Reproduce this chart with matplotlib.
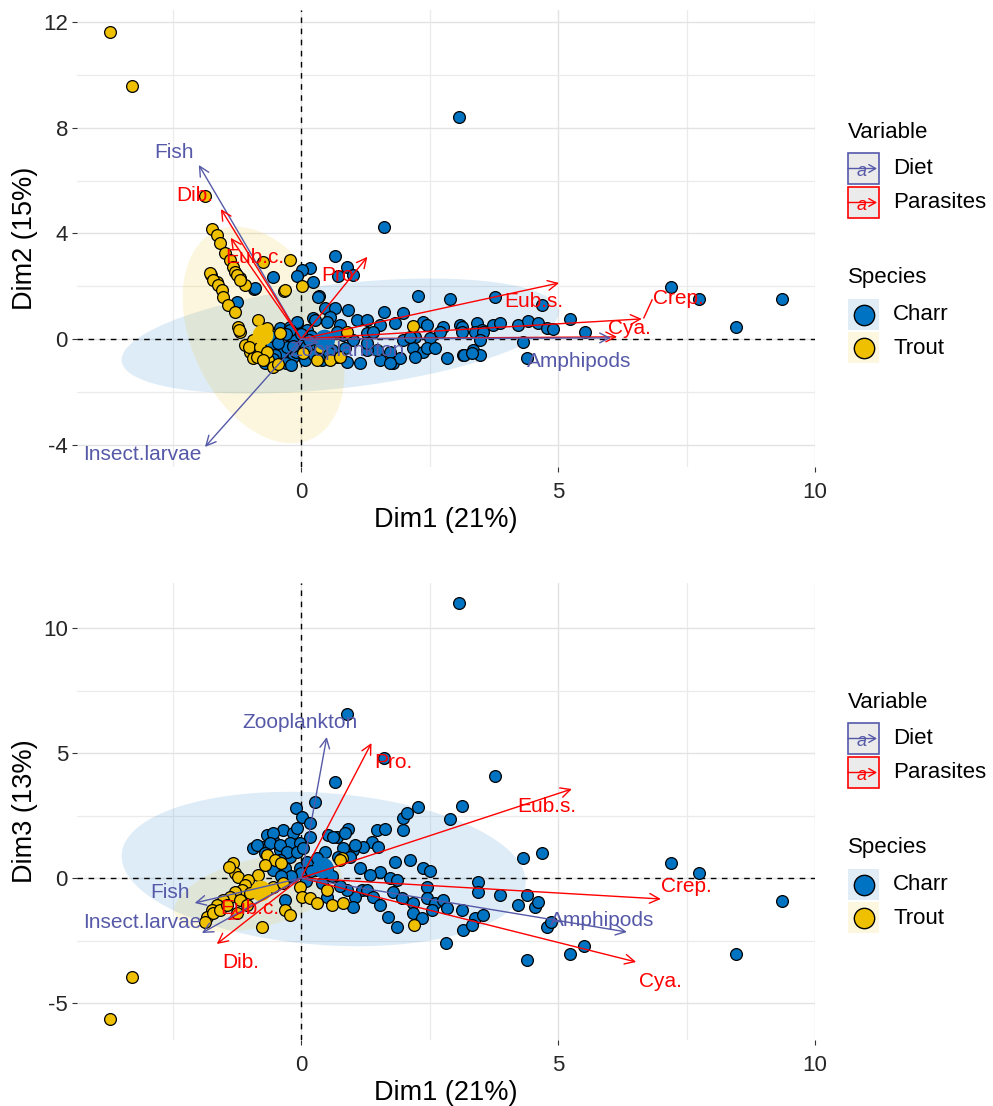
import numpy as np
import matplotlib
matplotlib.use("Agg")
import matplotlib.pyplot as plt
from matplotlib.patches import Rectangle

plt.rcParams['font.family'] = ['Liberation Sans', 'DejaVu Sans']
plt.rcParams['axes.unicode_minus'] = False

# colours
charr_col = '#0073C2'
trout_col = '#EFC000'
diet_col = '#5559A8'
para_col = '#FF0000'

# ---------------- data ----------------
# top panel: Dim1 vs Dim2
top_charr_x = [3.07, 1.62, 0.66, 0.89, 0.18, 0.02, -0.08, -0.54, 0.23, 0.72, -0.91, 0.35, 2.28, 2.90, 1.01,
               -0.89, -1.25, 0.33, 0.47, 0.66, 0.91, 0.56, 0.23, 1.09, 1.28, -0.41, -0.21, -0.08, 1.62, 1.98,
               0.76, 0.51, 0.27, 1.54, 1.83, 2.37, 2.76, 3.09, 3.42, 3.74, 3.52, 2.22, 2.51, 2.18, 2.37,
               2.84, 3.15, 3.35, 3.48, 1.15, 1.54, 1.79, 1.93, 0.89, 0.70, 1.48, 1.28, 1.73, 1.01, 0.82,
               1.28, 0.70, 0.37, 0.08, -0.16, -0.35, -0.37, 0.02, -0.16, -0.27, -0.08, 0.12, -0.21, -0.47,
               3.77, 4.69, 5.23, 5.53, 2.45, 3.13, 3.87, 4.22, 4.42, 4.61, 4.79, 4.90, 2.70, 3.13, 3.39,
               3.54, 3.48, 4.32, 4.40, 2.45, 2.61, 2.22, 3.17, 3.33, 1.73, 1.28, 1.40, 1.98, 2.12, 7.20,
               7.74, 9.36, 8.46, -0.60, -0.50, -0.30, -0.10, 0.10, 0.20, -0.30, -0.60, -0.80, 0.00, 0.30,
               0.50, 0.60, 0.40, -0.20, -0.70, -0.45, -0.15, 0.15, -0.55, 0.25, 0.55, 0.85]
top_charr_y = [8.40, 4.24, 3.14, 2.73, 2.69, 2.61, 2.39, 2.35, 2.16, 2.39, 1.89, 1.63, 1.63, 1.52, 2.42,
               1.93, 1.40, 1.59, 1.17, 1.17, 1.10, 0.83, 0.80, 0.72, 0.72, 0.42, 0.45, 0.61, 1.02, 0.98,
               0.53, 0.64, 0.72, 0.53, 0.61, 0.64, 0.45, 0.53, 0.61, 0.53, 0.34, 0.08, 0.04, -0.34, -0.49,
               -0.72, -0.61, -0.42, -0.61, -0.91, -0.80, -0.91, -0.72, -0.87, -0.68, -0.42, -0.42, -0.49, -0.04, 0.15,
               0.23, 0.27, -0.53, -0.80, -0.68, -0.80, -0.49, -0.15, 0.08, -0.30, 0.64, 0.34, 0.34, 0.04,
               1.59, 1.29, 0.76, 0.27, 0.53, 0.45, 0.61, 0.53, 0.68, 0.61, 0.42, 0.38, 0.27, 0.27, 0.27,
               0.27, -0.04, -0.11, -0.72, -0.34, -0.34, -0.68, -0.61, -0.53, -0.91, -0.15, 0.27, -0.04, 0.08, 1.97,
               1.52, 1.52, 0.45, -0.30, -0.60, -0.90, -0.50, -0.30, 0.10, 0.20, 0.10, -0.20, 0.20, -0.20,
               -0.20, -0.40, -0.80, -1.00, -0.90, -0.15, -0.25, -0.05, -0.75, -0.60, -0.55, -0.35]
top_trout_x = [-3.72, -3.29, -1.87, -1.73, -1.64, -1.58, -1.48, -1.38, -0.21, -0.74, -1.32, -1.75, -1.64, -1.28,
               -1.19, -1.09, -1.25, -1.19, 0.02, -0.33, -1.77, -1.71, -1.61, -1.54, -1.52, -1.42, -1.28, -1.23,
               -1.19, -0.84, -1.09, -0.99, -0.93, -0.80, -0.64, -0.54, -0.31, -1.20, -0.93, -1.02, -0.80, -0.66,
               -0.86, -0.74, -0.45, -0.66, -0.41, 0.89, 0.31, 0.56, 0.76, 0.04, 0.37, 2.18]
top_trout_y = [11.63, 9.58, 5.42, 4.17, 3.94, 3.63, 3.26, 2.99, 2.99, 2.92, 2.73, 2.42, 2.16, 2.54,
               2.31, 2.05, 2.42, 2.23, 2.00, 1.82, 2.50, 2.23, 2.05, 1.86, 1.59, 1.29, 1.02, 0.45,
               0.27, 0.72, -0.23, -0.49, -0.72, -0.53, -0.80, -1.06, 1.86, 0.34, -0.04, -0.30, -0.30, -0.49,
               -0.68, -0.80, -0.95, 0.42, 0.23, 0.27, -0.80, -0.80, -0.68, -0.53, -0.30, 0.49]

# bottom panel: Dim1 vs Dim3
bot_charr_x = [3.07, 0.89, 1.62, 0.66, 3.77, 0.27, -0.10, 0.02, 0.18, 2.28, 3.13, 2.90, 1.98, 2.06, 1.98,
               0.91, 0.53, 0.70, 1.48, 1.63, 1.38, 1.50, 1.20, 1.01, 0.86, 0.47, 1.83, 2.12, 2.37, 2.51,
               1.15, 1.54, -0.93, -0.66, -0.35, -0.16, -0.54, -0.21, -0.74, -0.41, -0.02, 0.18, -0.21, -0.54,
               -0.08, -0.86, -0.60, -0.41, -0.70, -0.27, -0.08, 0.04, -0.41, -0.31, -0.54, -0.02, 0.12, 0.31,
               0.31, 0.62, 0.86, 1.05, 0.82, 0.72, 0.95, 1.19, 1.05, 1.01, 0.89, -0.31, 0.51, 4.32, 4.69,
               1.34, 1.73, 1.87, 2.45, 3.44, 3.44, 3.87, 4.40, 4.22, 4.55, 4.61, 1.28, 1.40, 1.79, 1.96,
               1.54, 2.18, 2.45, 2.61, 2.76, 2.84, 3.13, 3.39, 3.54, 2.18, 2.35, 2.55, 1.69, 1.87, 3.15,
               3.33, 4.79, 4.86, 2.82, 5.51, 5.23, 4.40, 7.20, 7.74, 9.36, 8.46, 0.00, -0.20, 0.10, 0.20,
               0.50, 0.60, 0.40, -0.40, 0.75]
bot_charr_y = [11.00, 6.56, 4.80, 3.84, 4.08, 3.04, 2.80, 2.44, 2.20, 2.84, 2.88, 2.36, 2.40, 2.60, 1.92,
               1.96, 1.72, 1.64, 1.92, 1.96, 1.44, 1.24, 1.24, 1.12, 1.04, 1.04, 0.64, 0.72, 0.40, 0.28,
               0.40, 0.24, 1.20, 1.72, 1.92, 1.80, 1.52, 1.40, 1.24, 1.12, 1.40, 1.64, 0.84, 1.80,
               2.00, 1.32, 1.40, 1.32, 1.00, 1.04, 1.04, 1.20, 0.72, 0.40, 0.32, 0.40, 0.64, 0.80,
               0.32, 1.64, 1.80, 1.32, 1.20, 0.84, 0.84, -0.48, -0.76, -1.16, -0.48, -0.88, -0.76, 0.80, 1.00,
               0.12, 0.00, -0.08, -0.36, -0.16, -0.56, -0.68, -0.68, -1.08, -1.16, -0.96, -0.48, -0.76, -0.56, -0.80,
               -1.08, -1.00, -0.80, -1.00, -0.88, -1.20, -1.28, -1.60, -1.48, -1.40, -1.60, -1.28, -1.56, -1.96, -2.08,
               -1.88, -1.96, -1.76, -2.60, -2.72, -3.04, -3.28, 0.60, 0.20, -0.92, -3.04, 0.20, 0.10, -0.10, 0.30,
               0.40, 0.10, -0.20, 0.10, -0.30]
bot_trout_x = [-3.29, -3.72, -0.76, -1.32, -1.28, -0.66, -0.51, 0.80, -1.40, -1.22, -0.84, -0.70, -0.40,
               -1.03, -1.09, -1.15, -1.28, -1.38, -1.52, -1.64, -1.73, -1.83, -1.87, -1.71, -1.58, -1.44,
               -1.19, -0.99, -0.80, -0.54, -0.35, -1.05, -1.25, -0.31, -0.21, -0.02, 0.02, 0.18, 0.31,
               0.51, 0.60, 0.82, 0.76, 2.20]
bot_trout_y = [-3.96, -5.64, -1.96, 0.60, 0.20, 0.92, 0.72, 0.80, 0.45, 0.05, 0.12, 0.52, 0.60,
               -0.08, -0.28, -0.48, -0.56, -0.76, -0.88, -1.08, -1.28, -1.56, -1.76, -1.40, -1.28, -1.08,
               -0.88, -0.60, -0.48, -0.36, -0.20, -1.08, -1.40, -1.28, -1.48, -0.36, -0.76, -0.80, -1.00,
               -0.48, -1.08, -1.00, 0.72, -1.88]

# group means (large points)
top_mean_x = [0.46, -0.74]
top_mean_y = [-0.04, 0.15]
bot_mean_x = [0.43, -0.78]
bot_mean_y = [0.40, -0.52]

# variable arrows
var_names = ['Fish', 'Dib.', 'Eub.c.', 'Pro.', 'Eub.s.', 'Crep.', 'Cya.', 'Amphipods', 'Zooplankton', 'Insect.larvae']
var_group = ['Diet', 'Parasites', 'Parasites', 'Parasites', 'Parasites', 'Parasites', 'Parasites', 'Diet', 'Diet', 'Diet']
top_tip_x = [-1.99, -1.56, -1.37, 1.29, 5.02, 6.63, 6.15, 6.03, 0.35, -1.87]
top_tip_y = [6.59, 4.92, 3.83, 3.11, 2.12, 0.76, 0.08, 0.04, -0.15, -4.09]
top_lab_x = [-2.48, -2.07, -0.90, 0.77, 4.52, 7.35, 6.38, 5.41, 0.90, -3.08]
top_lab_y = [7.08, 5.45, 3.10, 2.42, 1.40, 1.55, 0.38, -0.87, -0.42, -4.39]
bot_tip_x = [-2.07, -1.64, -1.43, 1.37, 5.27, 7.00, 6.52, 6.34, 0.50, -1.93]
bot_tip_y = [-1.00, -2.64, -1.68, 5.40, 3.56, -0.84, -3.36, -2.16, 5.64, -2.20]
bot_lab_x = [-2.55, -1.17, -1.00, 1.80, 4.79, 7.49, 7.00, 5.85, -0.03, -3.08]
bot_lab_y = [-0.56, -3.40, -1.20, 4.64, 2.84, -0.36, -4.16, -1.68, 6.24, -1.80]

# concentration ellipses: centre, half major axis vector, half minor axis vector (data units)
top_ell = {'Charr': ((0.76, 0.11), (4.25, 0.95), (0.11, -1.96)),
           'Trout': ((-0.73, 0.15), (0.93, -3.94), (-1.27, -1.14))}
bot_ell = {'Charr': ((0.44, 0.36), (3.93, -0.60), (-0.11, -3.03)),
           'Trout': ((-0.84, -0.60), (1.62, 0.82), (0.16, -1.32))}

W, H = 993, 1106
fig = plt.figure(figsize=(W / 100, H / 100), dpi=100)


def draw_panel(ax, cx, cy, tx, ty, mx, my, ell, tipx, tipy, labx, laby, ylab, yticks, yminor, ylim):
    ax.set_xlim(-4.36, 9.98)
    ax.set_ylim(*ylim)
    for s in ax.spines.values():
        s.set_visible(False)
    ax.set_xticks([0, 5, 10])
    ax.set_xticks([-2.5, 2.5, 7.5], minor=True)
    ax.set_yticks(yticks)
    ax.set_yticks(yminor, minor=True)
    ax.grid(True, which='major', color='#E3E3E3', lw=1.0)
    ax.grid(True, which='minor', color='#EBEBEB', lw=0.9)
    ax.set_axisbelow(True)
    ax.tick_params(which='major', length=3.5, width=0.8, color='#333333', labelsize=16,
                   labelcolor='#262626')
    ax.tick_params(axis='x', pad=7)
    ax.tick_params(axis='y', pad=3)
    ax.tick_params(which='minor', length=0)

    t = np.linspace(0, 2 * np.pi, 200)
    for name, col in (('Charr', charr_col), ('Trout', trout_col)):
        (c0, c1), (a0, a1), (b0, b1) = ell[name]
        ex = c0 + np.cos(t) * a0 + np.sin(t) * b0
        ey = c1 + np.cos(t) * a1 + np.sin(t) * b1
        ax.fill(ex, ey, color=col, alpha=0.13, lw=0, zorder=1)

    ax.axhline(0, color='black', lw=1.0, ls=(0, (4, 4)), zorder=2)
    ax.axvline(0, color='black', lw=1.0, ls=(0, (4, 4)), zorder=2)

    ax.scatter(cx, cy, s=72, c=charr_col, edgecolors='black', linewidths=0.9, zorder=3)
    ax.scatter(tx, ty, s=72, c=trout_col, edgecolors='black', linewidths=0.9, zorder=3)
    ax.scatter(mx, my, s=220, c=[charr_col, trout_col], edgecolors='none', zorder=4)

    for i, name in enumerate(var_names):
        col = diet_col if var_group[i] == 'Diet' else para_col
        ax.annotate('', xy=(tipx[i], tipy[i]), xytext=(0, 0),
                    arrowprops=dict(arrowstyle='->,head_length=0.5,head_width=0.25', color=col,
                                    lw=1.0, shrinkA=0, shrinkB=0, mutation_scale=14), zorder=5)
        ax.text(labx[i], laby[i], name, color=col, fontsize=15, ha='center', va='center', zorder=6)

    ax.set_xlabel('Dim1 (21%)', fontsize=19.5, va='center')
    ax.xaxis.set_label_coords(0.5, -0.116)
    ax.set_ylabel(ylab, fontsize=19.5, va='center')
    ax.yaxis.set_label_coords(-0.0705, 0.5)


ax1 = fig.add_axes([77 / W, 1 - 467 / H, 738 / W, 457 / H])
draw_panel(ax1, top_charr_x, top_charr_y, top_trout_x, top_trout_y, top_mean_x, top_mean_y, top_ell,
           top_tip_x, top_tip_y, top_lab_x, top_lab_y, 'Dim2 (15%)',
           [-4, 0, 4, 8, 12], [-2, 2, 6, 10], (-4.85, 12.46))
# repel segment from Crep. label to its arrow
ax1.plot([6.67, 6.83], [0.80, 1.48], color=para_col, lw=1.0, zorder=5)

ax2 = fig.add_axes([77 / W, 1 - 1040 / H, 738 / W, 457 / H])
draw_panel(ax2, bot_charr_x, bot_charr_y, bot_trout_x, bot_trout_y, bot_mean_x, bot_mean_y, bot_ell,
           bot_tip_x, bot_tip_y, bot_lab_x, bot_lab_y, 'Dim3 (13%)',
           [-5, 0, 5, 10], [-2.5, 2.5, 7.5], (-6.48, 11.8))

# ---------------- legends, drawn in pixel space ----------------
lg = fig.add_axes([0, 0, 1, 1], facecolor='none')
lg.set_xlim(0, W)
lg.set_ylim(H, 0)
lg.axis('off')


def draw_legend(y0):
    # y0: pixel row of the "Variable" title centre
    lg.text(848, y0, 'Variable', fontsize=16, va='center', ha='left')
    for k, (lab, col) in enumerate((('Diet', diet_col), ('Parasites', para_col))):
        top = y0 + 21 + k * 34
        lg.add_patch(Rectangle((848, top), 31, 31, facecolor='#EBEBEB', edgecolor=col, lw=1.2))
        lg.annotate('', xy=(877, top + 15.5), xytext=(848, top + 15.5),
                    arrowprops=dict(arrowstyle='->,head_length=0.35,head_width=0.2', color=col,
                                    lw=1.0, shrinkA=0, shrinkB=0, mutation_scale=14))
        lg.text(862, top + 18, 'a', color=col, fontsize=13, ha='center', va='center', style='italic')
        lg.text(893, top + 16, lab, fontsize=16, va='center', ha='left')
    sy = y0 + 145
    lg.text(848, sy, 'Species', fontsize=16, va='center', ha='left')
    for k, (lab, col) in enumerate((('Charr', charr_col), ('Trout', trout_col))):
        top = sy + 22 + k * 33
        lg.add_patch(Rectangle((848, top), 31, 31, facecolor=col, alpha=0.12, lw=0))
        lg.scatter([863.5], [top + 15.5], s=215, c=col, edgecolors='black', linewidths=1.0)
        lg.text(893, top + 16, lab, fontsize=16, va='center', ha='left')


draw_legend(132)
draw_legend(702)

fig.savefig('out.png', dpi=100, facecolor='white')
